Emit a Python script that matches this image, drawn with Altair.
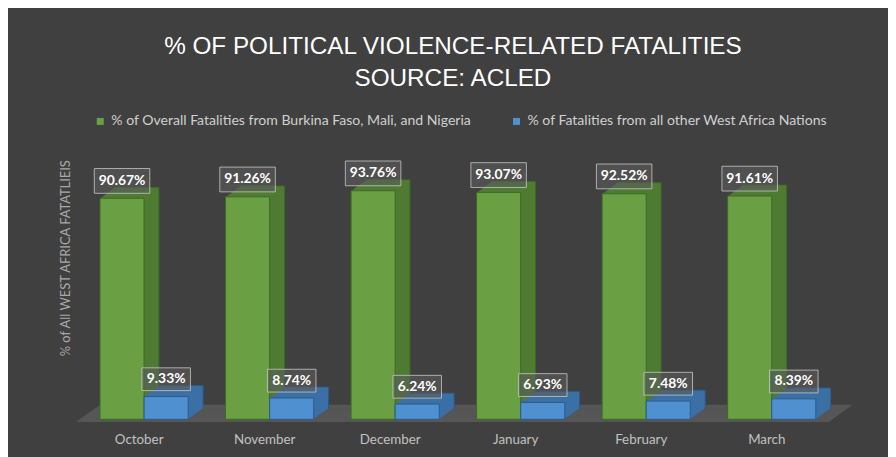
import altair as alt
import pandas as pd

months = ["October", "November", "December", "January", "February", "March"]
series_names = [
    "% of Overall Fatalities from Burkina Faso, Mali, and Nigeria",
    "% of Fatalities from all other West Africa Nations",
]
top3_values = [90.67, 91.26, 93.76, 93.07, 92.52, 91.61]
other_values = [9.33, 8.74, 6.24, 6.93, 7.48, 8.39]

rows = []
for m, g, b in zip(months, top3_values, other_values):
    rows.append({"month": m, "series": series_names[0], "value": g, "label": f"{g:.2f}%"})
    rows.append({"month": m, "series": series_names[1], "value": b, "label": f"{b:.2f}%"})
df = pd.DataFrame(rows)

BG = "#404040"
GREEN = "#6a9f43"
GREEN_SIDE = "#4f7b33"
GREEN_EDGE = "#3b6a22"
BLUE = "#4f90d0"
BLUE_SIDE = "#3b70a5"
BLUE_EDGE = "#2a5b8c"
FLOOR = "#565656"

W, H = 760, 246
BAR_W = 44.5
HALF = BAR_W / 2
DEPTH_X, DEPTH_Y, STEPS = 15, 11, 15

x_axis = alt.Axis(title=None, ticks=False, domain=False, labelAngle=0,
                  labelColor="#c0c0c0", labelFont="Lato", labelFontSize=13.5,
                  labelPadding=13, labelOffset=-5)
x_enc = alt.X("month:N", sort=months,
              scale=alt.Scale(paddingInner=0.297, paddingOuter=0.1485),
              axis=x_axis)
y_scale = alt.Scale(domain=[0, 100], nice=False)
y_axis = alt.Axis(title="% of All WEST AFRICA FATATLIEIS", labels=False, ticks=False,
                  domain=False, grid=False, titleColor="#a8a8a8", titleFont="Lato",
                  titleFontSize=13, titleFontWeight="normal", titleAngle=-90,
                  titleX=-16, titleY=83, titleAlign="center", titleBaseline="middle")
y_enc = alt.Y("value:Q", scale=y_scale, axis=y_axis)

layers = []

# floor (decorative slab)
floor_df = pd.DataFrame({"a": [0]})
for k in range(0, 17):
    layers.append(
        alt.Chart(floor_df).mark_rule(color=FLOOR, strokeWidth=1.5).encode(
            x=alt.value(-4 + k * 1.375), x2=alt.value(755 + k * 1.375),
            y=alt.value(H + 2 - k)
        )
    )


def bars(series, front, side, edge, shift):
    out = []
    sub = alt.Chart(df).transform_filter(alt.datum.series == series)
    for k in range(STEPS, 0, -1):
        dx = k * DEPTH_X / STEPS
        dy = k * DEPTH_Y / STEPS
        stroke_kw = {"stroke": edge, "strokeWidth": 1} if k == STEPS else {}
        out.append(
            sub.mark_bar(width=BAR_W, xOffset=shift + dx, yOffset=-dy, y2Offset=-dy,
                         color=side, **stroke_kw).encode(x=x_enc, y=y_enc)
        )
    out.append(
        sub.mark_bar(width=BAR_W, xOffset=shift, stroke=edge, strokeWidth=1).encode(
            x=x_enc, y=y_enc,
            color=alt.Color("series:N",
                            scale=alt.Scale(domain=series_names, range=[GREEN, BLUE]),
                            legend=alt.Legend(title=None, orient="none", direction="horizontal",
                                              legendX=12, legendY=-62, symbolType="square",
                                              symbolSize=50, symbolStrokeWidth=0,
                                              labelColor="#cfcfcf", labelFont="Lato",
                                              labelFontSize=14.2, labelLimit=600,
                                              columnPadding=38)),
        )
    )
    return out


layers += bars(series_names[0], GREEN, GREEN_SIDE, GREEN_EDGE, -HALF)
layers += bars(series_names[1], BLUE, BLUE_SIDE, BLUE_EDGE, HALF)


def labels(series, shift, box_w, top_off, bot_off):
    sub = alt.Chart(df).transform_filter(alt.datum.series == series)
    box = sub.mark_bar(width=box_w, xOffset=shift, yOffset=-top_off, y2Offset=-bot_off,
                       fill="#5c5c5c", fillOpacity=0.6, stroke="#c8c8c8",
                       strokeOpacity=0.8, strokeWidth=1).encode(
        x=x_enc, y=y_enc, y2="value:Q",
    )
    txt = sub.mark_text(xOffset=shift, yOffset=-(top_off + bot_off) / 2, color="white",
                        font="Lato", fontWeight="bold", fontSize=14,
                        baseline="middle", align="center").encode(
        x=x_enc, y=y_enc, text="label:N",
    )
    return [box, txt]


layers += labels(series_names[0], -HALF, 56, 30, 5)
layers += labels(series_names[1], HALF, 49, 29, 6)

chart = alt.layer(*layers).properties(
    width=W, height=H,
    autosize=alt.AutoSizeParams(type="none"),
    padding={"left": 74, "top": 167, "right": 54, "bottom": 36},
    background=BG,
    title=alt.TitleParams(
        ["% OF POLITICAL VIOLENCE-RELATED FATALITIES", "SOURCE: ACLED"],
        anchor="middle", color="white", font="Liberation Sans", fontSize=24.5,
        fontWeight="normal", lineHeight=32, offset=23, dx=-5,
    ),
).resolve_scale(x="shared", y="shared").configure_view(stroke=None)

chart.save("out.html", embed_options={"renderer": "svg", "actions": False})
